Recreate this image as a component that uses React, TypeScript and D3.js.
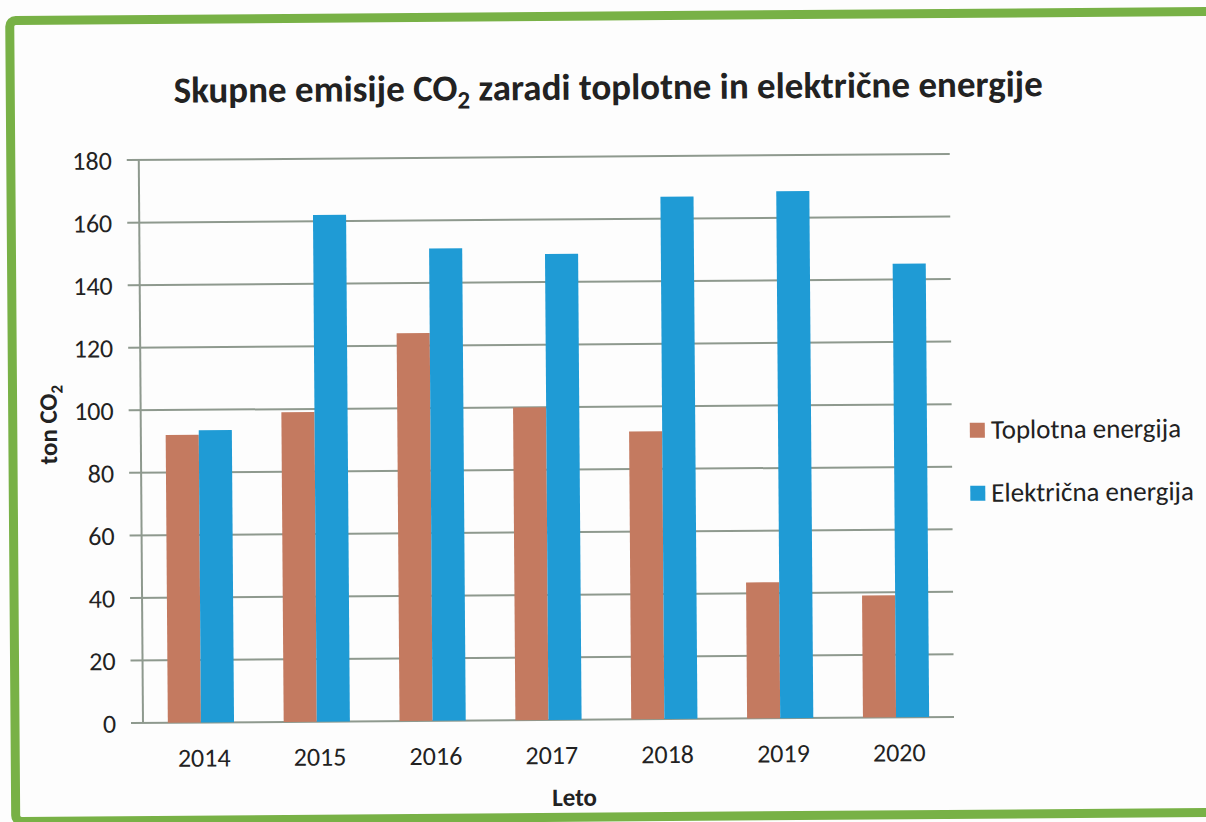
import React from "react";
import * as d3 from "d3";

const years = ["2014", "2015", "2016", "2017", "2018", "2019", "2020"];
const seriesNames = ["Toplotna energija", "Električna energija"];
const toplotna = [92, 99, 124, 100, 92, 43.5, 39];
const elektricna = [93.5, 162, 151, 149, 167, 168.5, 145];
const yTicks = [0, 20, 40, 60, 80, 100, 120, 140, 160, 180];

const W = 1206;
const H = 822;
const FONT = "Carlito, Calibri, Lato, 'Open Sans', sans-serif";
const colors = ["#c47a60", "#1f9bd5"];
const gridColor = "#8e998e";
const textColor = "#222";

export default function App() {
  const left = 143;
  const right = 954;
  const top = 160;
  const bottom = 723;

  const x = d3.scaleBand<string>().domain(years).range([left, right]).paddingInner(0).paddingOuter(0);
  const x1 = d3
    .scaleBand<string>()
    .domain(seriesNames)
    .range([0, x.bandwidth()])
    .paddingInner(0)
    .paddingOuter(0.75);
  const y = d3.scaleLinear().domain([0, 180]).range([bottom, top]);

  const seriesData = [toplotna, elektricna];

  return (
    <svg
      width={W}
      height={H}
      style={{ position: "absolute", left: 0, top: 0, background: "#fdfdfd" }}
      fontFamily={FONT}
    >
      <rect x={0} y={0} width={W} height={H} fill="#fdfdfd" />
      <g transform="rotate(-0.43, 143, 723)">
        {/* green frame */}
        <rect
          x={15}
          y={19.5}
          width={1300}
          height={801}
          rx={6}
          ry={6}
          fill="none"
          stroke="#78b146"
          strokeWidth={9}
        />

        {/* title */}
        <text
          x={613}
          y={103}
          textAnchor="middle"
          fontSize={37}
          fontWeight="bold"
          fill={textColor}
        >
          <tspan>Skupne emisije CO</tspan>
          <tspan fontSize={25} dy={8}>2</tspan>
          <tspan dy={-8}> zaradi toplotne in električne energije</tspan>
        </text>

        {/* gridlines + ticks */}
        {yTicks.map((t) => (
          <line
            key={"g" + t}
            x1={131}
            x2={right}
            y1={y(t)}
            y2={y(t)}
            stroke={gridColor}
            strokeWidth={2}
          />
        ))}
        <line x1={left} x2={left} y1={top} y2={bottom} stroke={gridColor} strokeWidth={2} />

        {/* y tick labels */}
        {yTicks.map((t) => (
          <text
            key={"yt" + t}
            x={116}
            y={y(t)}
            dy="0.36em"
            textAnchor="end"
            fontSize={26}
            fill={textColor}
          >
            {t}
          </text>
        ))}

        {/* bars */}
        {years.map((yr, i) => (
          <g key={yr}>
            {seriesNames.map((s, j) => {
              const v = seriesData[j][i];
              return (
                <rect
                  key={s}
                  x={(x(yr) as number) + (x1(s) as number)}
                  y={y(v)}
                  width={x1.bandwidth()}
                  height={y(0) - y(v)}
                  fill={colors[j]}
                />
              );
            })}
          </g>
        ))}

        {/* x tick labels */}
        {years.map((yr) => (
          <text
            key={"xt" + yr}
            x={(x(yr) as number) + x.bandwidth() / 2 + 3}
            y={767}
            textAnchor="middle"
            fontSize={26}
            fill={textColor}
          >
            {yr}
          </text>
        ))}

        {/* axis titles */}
        <text x={574} y={809} textAnchor="middle" fontSize={25} fontWeight="bold" fill={textColor}>
          Leto
        </text>
        <text
          transform="translate(59,424) rotate(-90)"
          textAnchor="middle"
          fontSize={25}
          fontWeight="bold"
          fill={textColor}
        >
          <tspan>ton CO</tspan>
          <tspan fontSize={17} dy={6}>2</tspan>
        </text>

        {/* legend */}
        {seriesNames.map((s, j) => (
          <g key={"lg" + s} transform={`translate(972, ${429 + j * 63})`}>
            <rect x={0} y={0} width={15} height={15} fill={colors[j]} />
            <text x={21} y={16} fontSize={27} fill={textColor}>
              {s}
            </text>
          </g>
        ))}
      </g>
    </svg>
  );
}
